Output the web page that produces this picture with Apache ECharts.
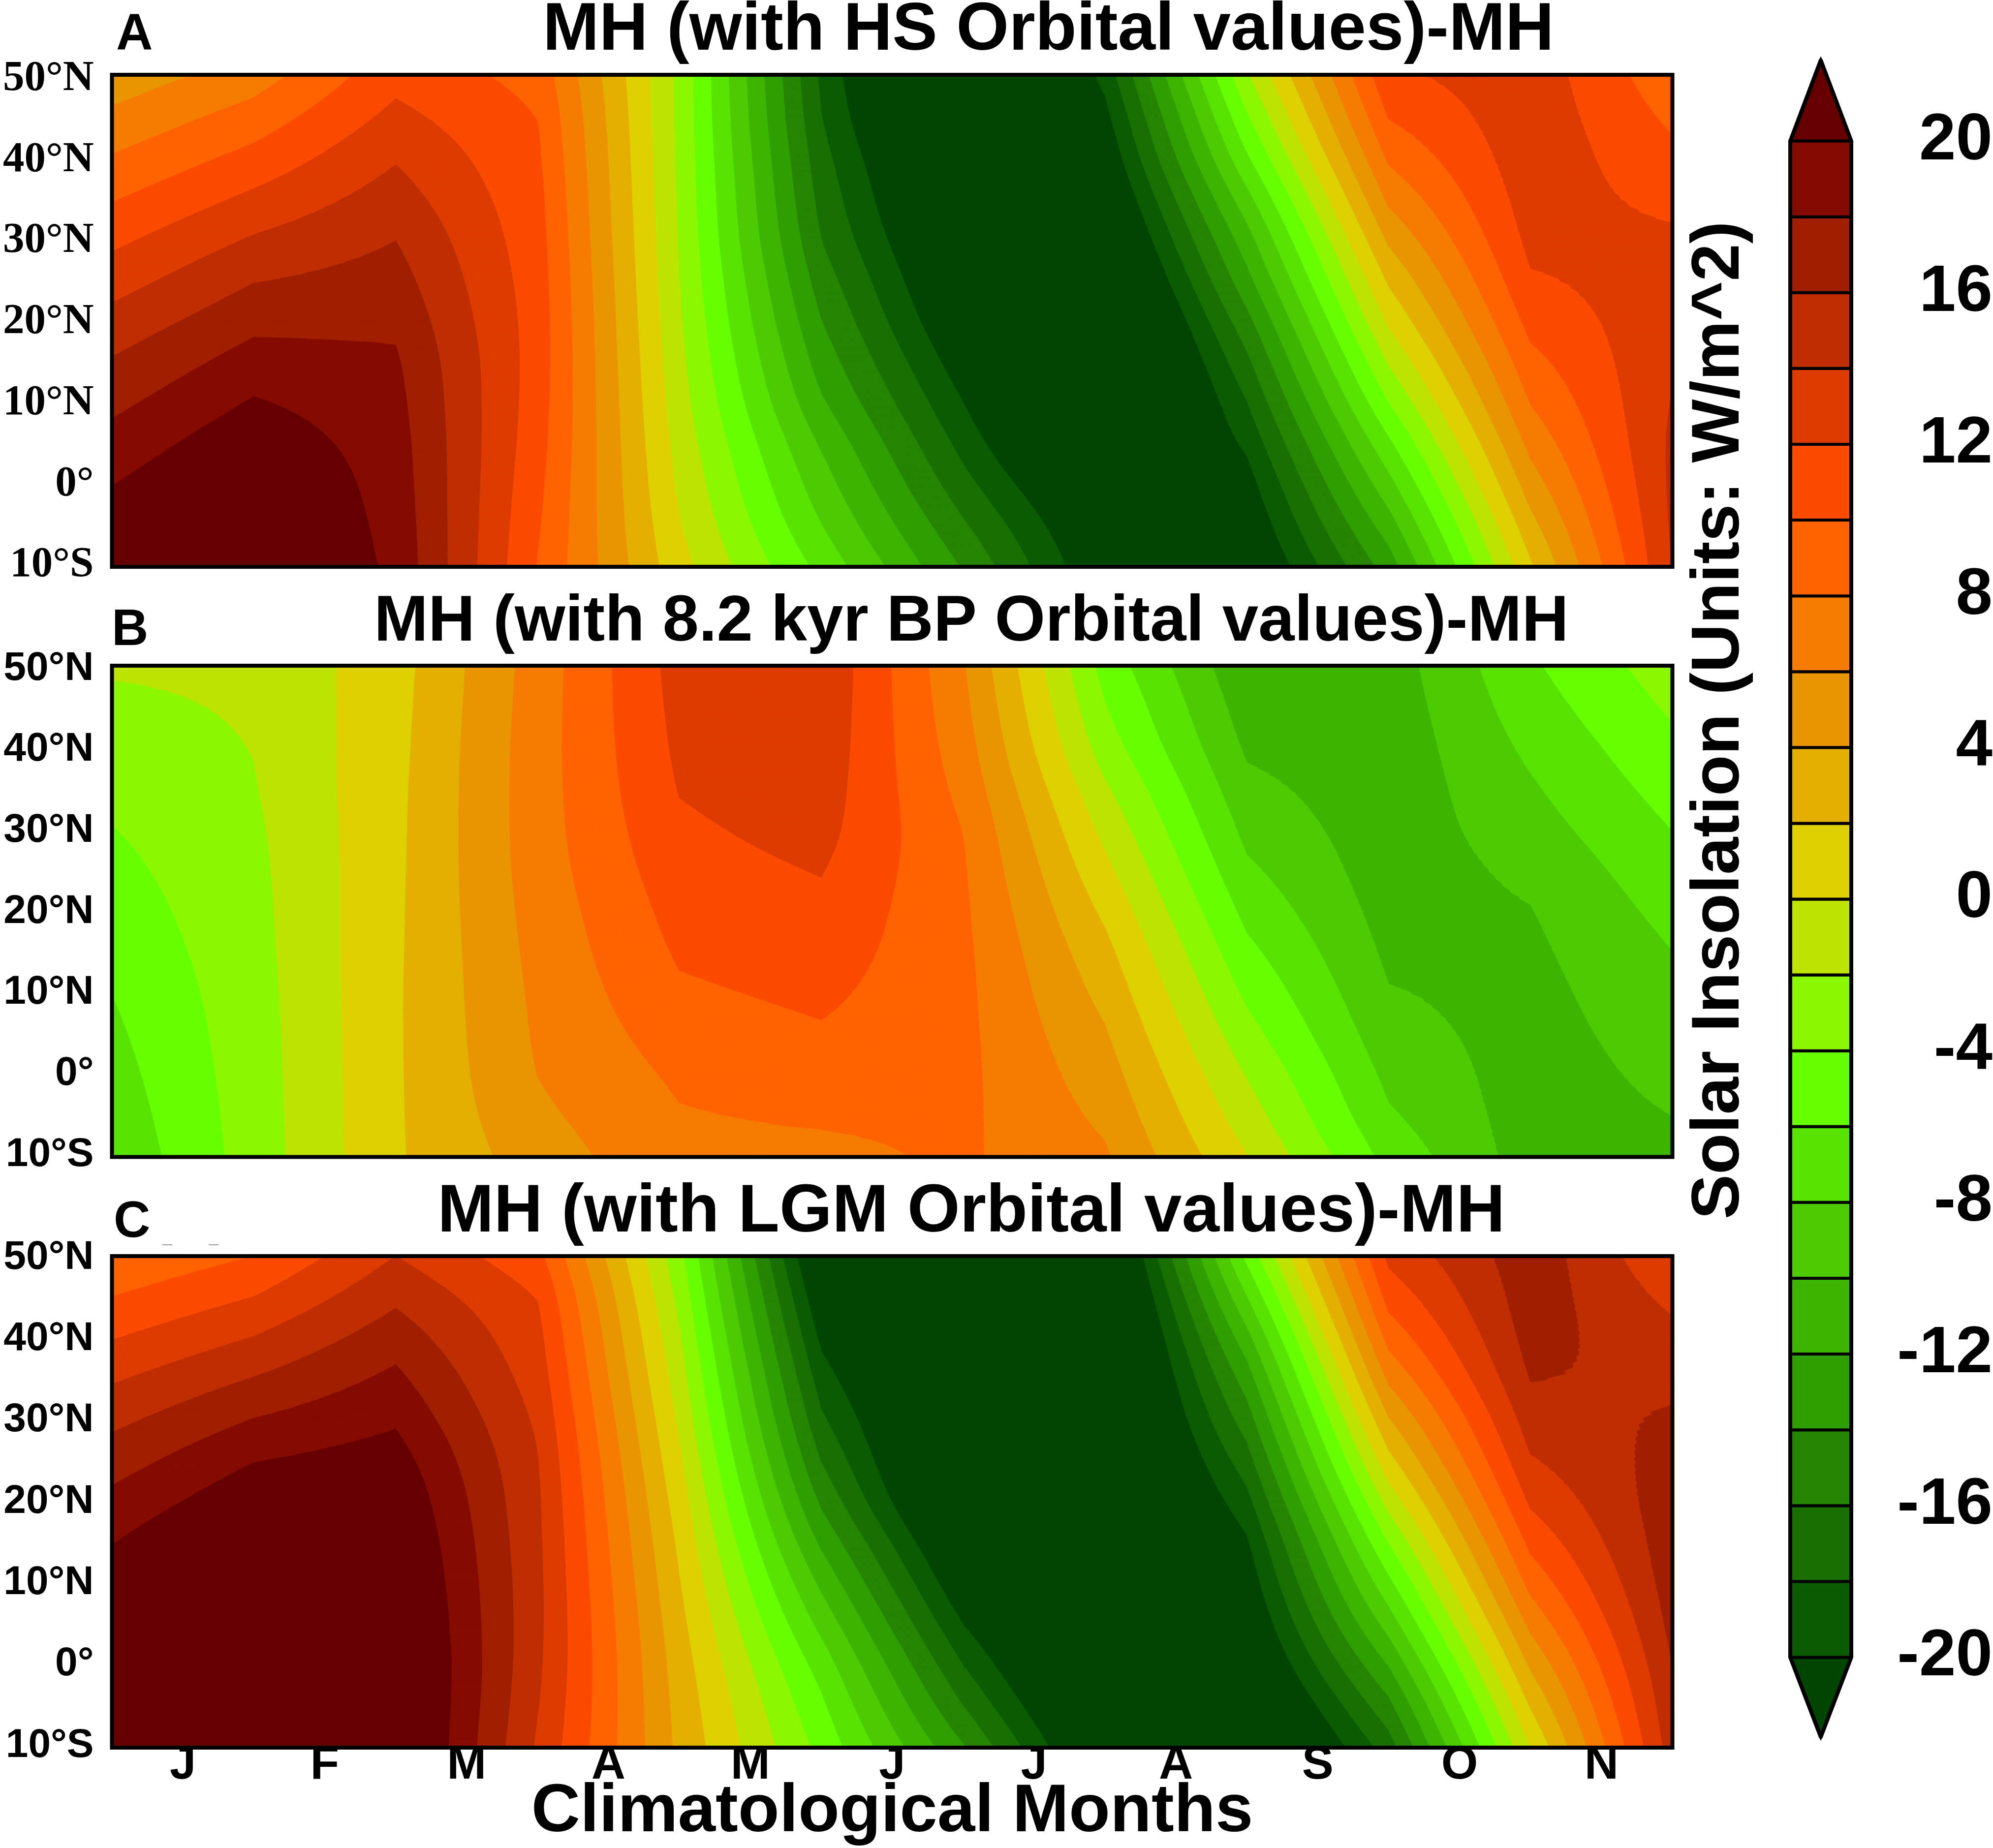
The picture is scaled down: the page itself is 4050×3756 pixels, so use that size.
<!DOCTYPE html>
<html><head><meta charset="utf-8">
<style>html,body{margin:0;padding:0;background:#fff}#c{width:4050px;height:3756px}</style>
<script src="https://cdn.jsdelivr.net/npm/echarts@6/dist/echarts.min.js"></script>
</head><body><div id="c"></div>
<script>
// ---- categories and tick labels
const monthLabels = ['J','F','M','A','M','J','J','A','S','O','N'];
const monthNodes = [0,1,2,3,4,5,6,7,8,9,10,11];
const lats = [50,45,40,35,30,25,20,15,10,5,0,-5,-10];
const latTicks = {'50':'50°N','40':'40°N','30':'30°N','20':'20°N','10':'10°N','0':'0°','-10':'10°S'};
const cbLabelled = [20,16,12,8,4,0,-4,-8,-12,-16,-20];
// contour levels (W/m^2) and the fill of each band, from below -20 to above 20
const levels = [-20,-18,-16,-14,-12,-10,-8,-6,-4,-2,0,2,4,6,8,10,12,14,16,18,20];
const bandColors = ['#004600','#0b5b00','#187000','#258500','#2f9f00','#3db500','#4ccb00','#58e400','#66ff00','#8bf700','#bde400','#dfd000','#e4b000','#e99500','#f57c00','#ff6300','#fa4b00','#de3b00','#bf2e00','#a01f00','#850b00','#660000'];
// ---- values: one list per month node, each running from 50N to 10S along lats
const panelA = [
 [4.7,6.4,8.1,9.8,11.5,13.1,14.7,16.2,17.5,18.8,20.0,21,22],
 [7.0,8.8,10.6,12.4,14.2,15.9,17.4,18.9,20.2,21.5,22.5,23,23.5],
 [11.3,12.5,13.8,14.9,16,16.8,17.6,18.3,18.6,18.9,19.1,19.3,19.5],
 [9.3,10,10.3,10.6,10.8,11.0,11.1,11.1,11.0,10.8,10.5,10.2,9.9],
 [-2.5,-2.5,-2.4,-2.3,-2.2,-2.0,-1.8,-1.5,-1.2,-0.8,-0.4,0.1,0.7],
 [-18.4,-18,-17.3,-16.7,-16.1,-15,-14,-12.9,-11.8,-10.2,-9.1,-8,-6.6],
 [-29.3,-28.3,-26.5,-25.6,-24.6,-23.6,-22.7,-21.3,-20,-18.7,-17.3,-15.7,-14.2],
 [-19.3,-20.7,-21.8,-23.2,-24.5,-26,-27.4,-28.2,-28.7,-27,-24.5,-23,-22.2],
 [-2.2,-4.2,-6.2,-8.7,-10.9,-12.6,-14.7,-16.5,-18.1,-19.6,-21,-22,-23.1],
 [11.6,10.2,8.4,6.5,4.4,2.3,0.4,-1.8,-4,-6.5,-8.7,-11,-13.1],
 [13.2,13.3,13.3,13,12.6,11.8,10.7,9.4,8.1,6.6,5,3.3,1.7],
 [8.6,9.55,10.5,11.4,12.4,13,13.4,13.8,14.1,14.4,14.4,14.3,14.05]
];
const panelB = [
 [-1.8,-2.38,-2.94,-3.5,-4.07,-4.55,-5.03,-5.5,-6,-6.4,-6.8,-7.2,-7.6],
 [-1.66,-1.8,-1.95,-2.1,-2.35,-2.5,-2.6,-2.7,-2.82,-2.9,-2.97,-3.03,-3.08],
 [1.2,1.3,1.4,1.5,1.55,1.6,1.65,1.7,1.75,1.75,1.75,1.75,1.75],
 [6.9,7.0,7.1,7.1,7.1,7.0,6.8,6.6,6.4,6.25,6.05,5.6,5.0],
 [12.8,12.6,12.4,12.1,11.7,11.2,10.7,10.25,9.7,9.0,8.3,7.85,7.5],
 [13.7,13.5,13.3,13.0,12.7,12.1,11.5,11.0,10.4,9.8,9.0,8.25,7.5],
 [6.15,6.5,6.9,7.4,8.0,8.2,8.35,8.45,8.5,8.5,8.5,8.4,8.3],
 [-4.8,-3.9,-3.1,-1.7,-0.6,0.5,1.6,2.6,3.4,4.2,4.9,5.6,6.25],
 [-11.7,-11,-10.35,-9.45,-8.6,-7.65,-6.6,-5.5,-4.4,-3.3,-2.1,-1.1,0.05],
 [-11,-11.2,-11.3,-11.3,-11.2,-11.1,-10.8,-10.4,-9.9,-9.3,-8.5,-7.8,-6.65],
 [-6.3,-6.9,-7.6,-8.25,-8.85,-9.6,-10.1,-10.4,-10.65,-10.8,-10.95,-11,-11],
 [-2.9,-3.7,-4.45,-5.2,-6,-6.7,-7.4,-8.05,-8.55,-9.05,-9.5,-10,-10.5]
];
const panelC = [
 [8.2,10,11.9,13.8,15.5,17.1,18.6,20,21,22,23,24,25],
 [10,12,14.1,16.1,18.1,20,21.5,23,24,25,25,25,25],
 [14,15.6,17.1,18.5,19.7,21,21.9,22.5,23,23.3,23.7,23.7,23.7],
 [10.6,12.05,12.6,13.1,13.7,14.1,14.3,14.4,14.5,14.5,14.4,14.1,13.7],
 [-3.4,-2.6,-1.8,-1.1,-0.4,0.3,1,1.6,2.1,2.6,3,3.3,3.5],
 [-23.5,-21.9,-20.5,-19,-17.7,-16.1,-14.4,-12.4,-10.4,-8.6,-6.8,-5.6,-4.6],
 [-30,-29.5,-29,-27.5,-26.7,-26.7,-26,-23.7,-22,-20,-18,-16,-13.8],
 [-25.3,-26.3,-26.8,-26.9,-27,-27.3,-27.5,-28,-28,-28,-27,-25.5,-24],
 [-5.5,-8.1,-10.8,-13.1,-15,-16.9,-18.7,-20.4,-21.4,-22.5,-23.7,-25.3,-27],
 [12.5,10.8,8.7,6.4,3.8,1.4,-1.3,-4,-6.6,-9.2,-12,-14.7,-17],
 [17.25,17.1,16.8,16.15,15,13.85,12.35,10.55,8.65,6.5,4.25,2.1,0],
 [12.2,13.5,14.6,15.5,16.3,16.8,17.2,17.2,17,16.6,16,15.5,15]
];
const panelTitles = ['MH (with HS Orbital values)-MH','MH (with 8.2 kyr BP Orbital values)-MH','MH (with LGM Orbital values)-MH'];
const panelLetters = ['A','B','C'];

// ---- contour drawing
const SANS='"Liberation Sans"', SERIF='"Liberation Serif"';
const SUB=6; // drawing steps per row: contours run smoothly along latitude, with corners only at month nodes
function smoothColumn(col){
  const n=col.length, at=i=>i<0?2*col[0]-col[-i]:(i>=n?2*col[n-1]-col[2*n-2-i]:col[i]);
  const out=[];
  for(let i=0;i<n-1;i++) for(let s=0;s<SUB;s++){
    const u=s/SUB,a=at(i-1),b=at(i),c=at(i+1),d=at(i+2);
    out.push(((1-u)*(1-u)*(1-u)*a+(3*u*u*u-6*u*u+4)*b+(-3*u*u*u+3*u*u+3*u+1)*c+u*u*u*d)/6);
  }
  out.push(col[n-1]);
  return out;
}
const fineLat=i=>{const r=Math.min(Math.floor(i/SUB),lats.length-2);return lats[r]+(lats[r+1]-lats[r])*(i/SUB-r);};
function clipAt(poly, level, keepAbove){
  const out=[];
  for(let i=0;i<poly.length;i++){
    const a=poly[i], b=poly[(i+1)%poly.length];
    const ina = keepAbove ? a[2]>=level : a[2]<=level;
    const inb = keepAbove ? b[2]>=level : b[2]<=level;
    if(ina) out.push(a);
    if(ina!==inb){
      const t=(level-a[2])/(b[2]-a[2]);
      out.push([a[0]+(b[0]-a[0])*t, a[1]+(b[1]-a[1])*t, level]);
    }
  }
  return out;
}
function contourRender(values){
  const fine=values.map(smoothColumn);
  return function(params, api){
    const k=api.value(0), r=api.value(1);
    const la=fineLat(r), lb=fineLat(r+1);
    const p00=[monthNodes[k],la,fine[k][r]], p10=[monthNodes[k+1],la,fine[k+1][r]],
          p11=[monthNodes[k+1],lb,fine[k+1][r+1]], p01=[monthNodes[k],lb,fine[k][r+1]];
    const mid=[(p00[0]+p10[0])/2,(la+lb)/2,(p00[2]+p10[2]+p11[2]+p01[2])/4];
    const tris=[[p00,p10,mid],[p10,p11,mid],[p11,p01,mid],[p01,p00,mid]];
    const children=[];
    tris.forEach(tri=>{
      for(let b=0;b<bandColors.length;b++){
        let poly=tri;
        if(b>0) poly=clipAt(poly,levels[b-1],true);
        if(poly.length>2 && b<levels.length) poly=clipAt(poly,levels[b],false);
        if(poly.length>2){
          children.push({type:'polygon',shape:{points:poly.map(q=>api.coord([q[0],q[1]]))},
            style:{fill:bandColors[b],stroke:bandColors[b],lineWidth:1.4}});
        }
      }
    });
    return {type:'group',children};
  };
}
function frameRender(params){
  const c=params.coordSys;
  return {type:'rect',shape:{x:c.x,y:c.y,width:c.width,height:c.height},
    style:{fill:'none',stroke:'#000',lineWidth:8,lineJoin:'miter'}};
}
const cells=[];
for(let k=0;k<monthNodes.length-1;k++) for(let r=0;r<(lats.length-1)*SUB;r++) cells.push([k,r]);

const G={outerBoundsMode:'none'};
const grids=[
 {left:227.5,top:152,width:3171,height:1000},
 {left:227.5,top:1353,width:3171,height:998.5},
 {left:227.5,top:2553,width:3171,height:999},
 {left:3638,top:132.5,width:124,height:3390},
 // latitude labels sit on their own slightly tighter scales, as in the source figure
 {left:227.5,top:160.5,width:3171,height:988.5},
 {left:227.5,top:1359,width:3171,height:988},
 {left:227.5,top:2556,width:3171,height:992}
].map(g=>Object.assign(g,G));
const xAxes=[0,1,2].map(i=>({type:'value',gridIndex:i,min:0,max:11,show:false}));
xAxes.push({type:'category',gridIndex:2,data:monthLabels,position:'bottom',boundaryGap:true,
  axisLine:{show:false},axisTick:{show:false},splitLine:{show:false},
  axisLabel:{interval:0,margin:-11,fontFamily:SANS,fontWeight:'bold',fontSize:96,color:'#000'},
  name:'Climatological Months',nameLocation:'middle',nameGap:63,nameMoveOverlap:false,
  nameTextStyle:{fontFamily:SANS,fontWeight:'bold',fontSize:137.5,color:'#000',verticalAlign:'top'}});
xAxes.push({type:'value',gridIndex:3,min:0,max:1,show:false});
[4,5,6].forEach(g=>xAxes.push({type:'value',gridIndex:g,min:0,max:11,show:false}));
const yAxes=[0,1,2].map(i=>({type:'value',gridIndex:i,min:-10,max:50,interval:10,show:false}));
yAxes.push({type:'value',gridIndex:3,min:-22,max:22,interval:2,position:'right',
  axisLine:{show:false},axisTick:{show:false},splitLine:{show:false},
  axisLabel:{margin:287,align:'right',padding:[0,0,12,0],color:'#000',fontFamily:SANS,fontWeight:'bold',fontSize:134,
    showMinLabel:true,showMaxLabel:true,
    formatter:v=>cbLabelled.indexOf(v)>=0?String(v):''}});
[0,1,2].forEach(i=>yAxes.push({type:'value',gridIndex:4+i,min:-10,max:50,interval:10,
  axisLine:{show:false},axisTick:{show:false},splitLine:{show:false},
  axisLabel:{margin:37,color:'#000',fontWeight:'bold',
    fontFamily:i===0?SERIF:SANS,fontSize:i===0?87:82,
    formatter:v=>latTicks[String(v)]||''}}));

const series=[];
[panelA,panelB,panelC].forEach((vals,i)=>{
  series.push({type:'custom',coordinateSystem:'cartesian2d',xAxisIndex:i,yAxisIndex:i,
    data:cells,renderItem:contourRender(vals),clip:true,silent:true,animation:false,progressive:0,z:2});
  series.push({type:'custom',coordinateSystem:'cartesian2d',xAxisIndex:i,yAxisIndex:i,
    data:[[0,0]],renderItem:frameRender,clip:false,silent:true,animation:false,z:5});
});
// colour bar: a box per band between levels, an arrow at each end
const tipTop=22.13, tipBottom=-22.1;
const cbItems=bandColors.map((c,i)=>[i]);
series.push({type:'custom',coordinateSystem:'cartesian2d',xAxisIndex:4,yAxisIndex:3,
  data:cbItems,clip:false,silent:true,animation:false,progressive:0,z:3,
  renderItem:function(params,api){
    const b=api.value(0), col=bandColors[b];
    let pts;
    if(b===0) pts=[[0,levels[0]],[1,levels[0]],[0.5,tipBottom]];
    else if(b===bandColors.length-1) pts=[[0,levels[levels.length-1]],[1,levels[levels.length-1]],[0.5,tipTop]];
    else pts=[[0,levels[b-1]],[1,levels[b-1]],[1,levels[b]],[0,levels[b]]];
    return {type:'polygon',shape:{points:pts.map(q=>api.coord(q))},
      style:{fill:col,stroke:'#000',lineWidth:6}};
  }});
series.push({type:'custom',coordinateSystem:'cartesian2d',xAxisIndex:4,yAxisIndex:3,
  data:[[0,0]],clip:false,silent:true,animation:false,z:4,
  renderItem:function(params,api){
    const pts=[[0,20],[0.5,tipTop],[1,20],[1,-20],[0.5,tipBottom],[0,-20]];
    return {type:'polygon',shape:{points:pts.map(q=>api.coord(q))},
      style:{fill:'none',stroke:'#000',lineWidth:8,lineJoin:'round'}};
  }});

const titles=[
 {text:panelTitles[0],left:1103,top:-6,fs:137.5},
 {text:panelTitles[1],left:760,top:1200,fs:132},
 {text:panelTitles[2],left:889,top:2396,fs:137.5}
].map(t=>Object.assign(t,{padding:0,textStyle:{fontFamily:SANS,fontWeight:'bold',fontSize:t.fs,color:'#000'}}));
[{text:panelLetters[0],left:236,top:20},{text:panelLetters[1],left:227,top:1231},{text:panelLetters[2],left:231,top:2434}]
 .forEach(t=>titles.push(Object.assign(t,{padding:0,textStyle:{fontFamily:SANS,fontWeight:'bold',fontSize:103,color:'#000'}})));

const chart=echarts.init(document.getElementById('c'),null,{renderer:'canvas',width:4050,height:3756});
chart.setOption({
  animation:false,backgroundColor:'#fff',
  title:titles,grid:grids,xAxis:xAxes,yAxis:yAxes,series:series,
  graphic:[
    {type:'text',x:3495,y:1464,rotation:Math.PI/2,z:10,
     style:{text:'Solar Insolation (Units: W/m^2)',fontFamily:SANS,fontWeight:'bold',fontSize:137,fill:'#000',textAlign:'center',textVerticalAlign:'middle'}},
    {type:'rect',shape:{x:330,y:2529,width:20,height:2},style:{fill:'#999'}},
    {type:'rect',shape:{x:424,y:2529,width:20,height:2},style:{fill:'#999'}}
  ]
});
</script></body></html>
